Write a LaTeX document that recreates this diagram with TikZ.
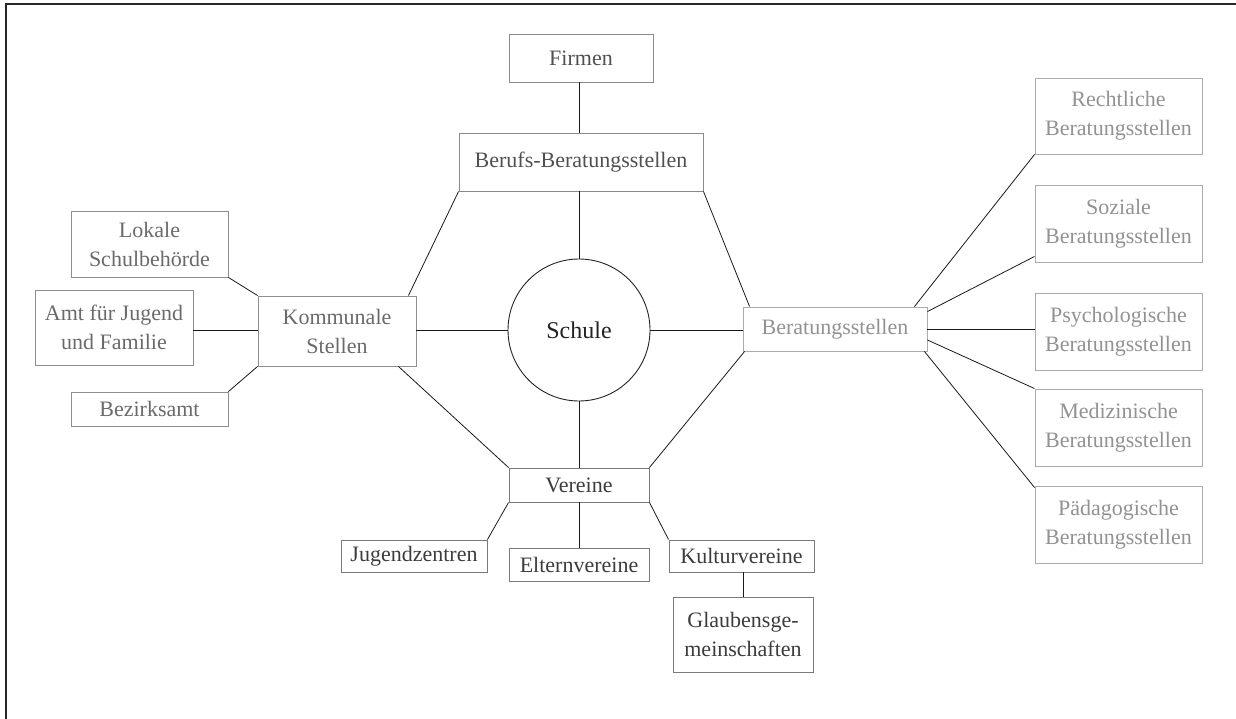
\documentclass[tikz,border=0pt]{standalone}
\usepackage{fontspec}
\setmainfont{Liberation Serif}
\definecolor{cSchule}{HTML}{222222}
\definecolor{cTop}{HTML}{505050}
\definecolor{cLeft}{HTML}{6A6A6A}
\definecolor{cRight}{HTML}{929292}
\definecolor{cVer}{HTML}{3C3C3C}
\definecolor{bTop}{HTML}{8A8A8A}
\definecolor{bLeft}{HTML}{8E8E8E}
\definecolor{bRight}{HTML}{ABABAB}
\definecolor{bVer}{HTML}{7A7A7A}
\begin{document}
\begin{tikzpicture}[x=1pt,y=-1pt,
  box/.style={draw, rectangle, inner sep=0pt, align=center, line width=0.9pt,
    font=\fontsize{22}{29}\selectfont},
  topbox/.style={box, draw=bTop, text=cTop},
  leftbox/.style={box, draw=bLeft, text=cLeft},
  rightbox/.style={box, draw=bRight, text=cRight},
  verbox/.style={box, draw=bVer, text=cVer},
  conn/.style={draw=black!90, line width=0.8pt}]
\useasboundingbox (0,0) rectangle (1236,719);
\draw[line width=1.3pt, black!85] (6,719) -- (6,4) -- (1236,4);

% center
\node[circle, draw=cSchule, line width=0.9pt, minimum size=142pt, inner sep=0pt,
  text=cSchule, font=\fontsize{24}{29}\selectfont] (schule) at (579,330) {Schule};

% top
\node[topbox, minimum width=144pt, minimum height=48pt] (firm) at (581,58) {Firmen};
\node[topbox, minimum width=244pt, minimum height=58pt] (beruf) at (581,162) {Berufs-Beratungsstellen};

% left
\node[leftbox, minimum width=158pt, minimum height=70pt] (komm) at (337,331) {Kommunale\\Stellen};
\node[leftbox, minimum width=157pt, minimum height=66pt] (lok) at (149.5,244) {Lokale\\Schulbehörde};
\node[leftbox, minimum width=158pt, minimum height=75pt] (amt) at (114,327.5) {Amt für Jugend\\und Familie};
\node[leftbox, minimum width=157pt, minimum height=34pt] (bez) at (149.5,409) {Bezirksamt};

% right
\node[rightbox, minimum width=184pt, minimum height=44pt] (ber) at (835,329) {Beratungsstellen};
\node[rightbox, minimum width=167pt, minimum height=76pt] (rec) at (1118.5,116) {Rechtliche\\Beratungsstellen};
\node[rightbox, minimum width=167pt, minimum height=77pt] (soz) at (1118.5,223.5) {Soziale\\Beratungsstellen};
\node[rightbox, minimum width=167pt, minimum height=77pt] (psy) at (1118.5,331.5) {Psychologische\\Beratungsstellen};
\node[rightbox, minimum width=167pt, minimum height=77pt] (med) at (1118.5,427.5) {Medizinische\\Beratungsstellen};
\node[rightbox, minimum width=167pt, minimum height=77pt] (pad) at (1118.5,524.5) {Pädagogische\\Beratungsstellen};

% bottom
\node[verbox, minimum width=140pt, minimum height=34pt] (ver) at (579,485) {Vereine};
\node[verbox, minimum width=146pt, minimum height=32pt] (jug) at (414,556) {Jugendzentren};
\node[verbox, minimum width=140pt, minimum height=33pt] (elt) at (579,564.5) {Elternvereine};
\node[verbox, minimum width=145pt, minimum height=32pt] (kul) at (741.5,556) {Kulturvereine};
\node[verbox, minimum width=140pt, minimum height=75pt] (gla) at (743,634.5) {Glaubensge-\\meinschaften};

% connectors
\path[conn] (firm.south -| schule.north) -- (beruf.north -| schule.north);
\path[conn] (beruf.south -| schule.north) -- (schule.north);
\path[conn] (beruf.south west) -- ([xshift=-8pt]komm.north east);
\path[conn] (beruf.south east) -- ([xshift=7pt]ber.north west);
\path[conn] (komm.east |- schule.west) -- (schule.west);
\path[conn] (schule.east) -- (schule.east -| ber.west);
\path[conn] ([xshift=-18pt]komm.south east) -- (ver.north west);
\path[conn] (schule.south) -- (ver.north);
\path[conn] ([xshift=2pt]ber.south west) -- (ver.north east);
\path[conn] (ver.south west) -- (jug.north east);
\path[conn] (ver.south) -- (elt.north);
\path[conn] (ver.south east) -- (kul.north west);
\path[conn] (kul.south -| gla.north) -- (gla.north);
\path[conn] (lok.south east) -- (komm.north west);
\path[conn] (amt.east |- schule.west) -- (komm.west |- schule.west);
\path[conn] (bez.north east) -- (komm.south west);
\path[conn] ([xshift=-13pt]ber.north east) -- (rec.south west);
\path[conn] ([yshift=-5pt]ber.north east) -- ([yshift=6pt]soz.south west);
\path[conn] (ber.east) -- (ber.east -| psy.west);
\path[conn] ([yshift=-11pt]ber.east) -- (med.north west);
\path[conn] ([xshift=-3pt]ber.south east) -- ([yshift=-2pt]pad.north west);
\end{tikzpicture}
\end{document}
